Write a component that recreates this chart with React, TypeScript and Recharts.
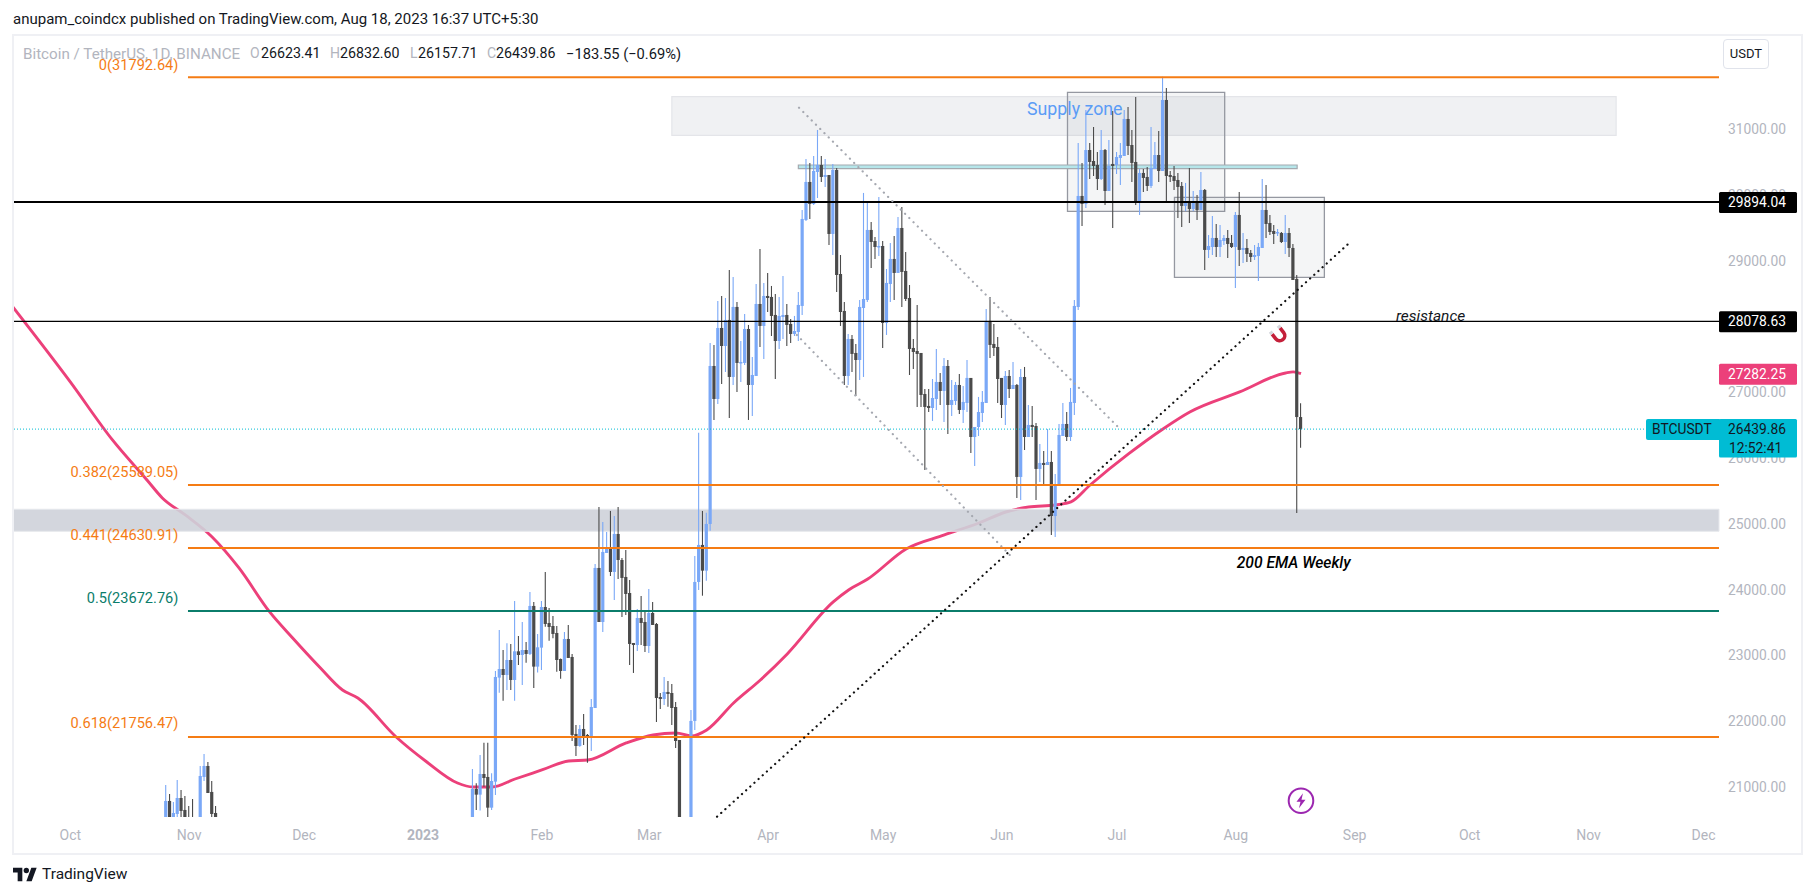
import { Bar, ComposedChart, Line, ReferenceArea, ReferenceDot, ReferenceLine, XAxis, YAxis } from 'recharts';

const FONT = 'Roboto, sans-serif';
const BLUE = '#7aa8f7';
const DARK = '#4a4a4a';
const ORANGE = '#f57c14';
const TEAL = '#0b7d6b';
const PINK = '#ec407a';
const CYAN = '#00bcd4';

// [open, high, low, close], day numbers count from 1 Jan 2023
const octNovCandles = [
  [20400, 21027, 20300, 20784], [20784, 20890, 20300, 20400], [20400, 20769, 20300, 20601], [20586, 21103, 20400, 20829],
  [20829, 20951, 20400, 20632], [20647, 20860, 20400, 20450], [20500, 20708, 20400, 20450], [20500, 20814, 20400, 20450],
  [20300, 20450, 20200, 20400], [20300, 21316, 20250, 21164], [21149, 21499, 21088, 21316], [21316, 21377, 20905, 20905],
  [20921, 21088, 20400, 20586], [20601, 20708, 20400, 20450],
];
const janCandles = [
  [19930, 21270, 19880, 20966], [20966, 21052, 20647, 20880], [20880, 21483, 20637, 21194], [21194, 21671, 21002, 21133],
  [21149, 21671, 20540, 20682], [20682, 21204, 20647, 21088], [21078, 22761, 20875, 22670], [22660, 23385, 22431, 22791],
  [22791, 23080, 22310, 22700], [22700, 23182, 22472, 22928], [22928, 23172, 22472, 22624], [22624, 23826, 22310, 23060],
  [23060, 23293, 22852, 23004], [23004, 23506, 22548, 23080], [23080, 23202, 22888, 23020], [23020, 23963, 23004, 23750],
  [23750, 23810, 22502, 22827], [22827, 23324, 22736, 23121],
];
const febCandles = [
  [23116, 23826, 22776, 23734], [23734, 24267, 23435, 23476], [23491, 23719, 23222, 23430], [23445, 23598, 23258, 23324],
  [23339, 23445, 22751, 22928], [22943, 22950, 22644, 22761], [22761, 23354, 22761, 23248], [23248, 23461, 22959, 22959],
  [22974, 23020, 21696, 21788], [21803, 21940, 21468, 21620], [21620, 21940, 21610, 21879], [21879, 22107, 21635, 21772],
  [21788, 21803, 21367, 21772], [21772, 22335, 21544, 22213], [22198, 24388, 22198, 24328], [24328, 25255, 23506, 23506],
  [23506, 25027, 23354, 24571], [24556, 24875, 24556, 24632], [24632, 25195, 24206, 24267], [24267, 25119, 23841, 24845],
  [24845, 25255, 24160, 24449], [24449, 24480, 23582, 24176], [24191, 24601, 23613, 23932], [23947, 24145, 22852, 23172],
  [23187, 23187, 22731, 23156], [23156, 23704, 23065, 23567], [23567, 23902, 23156, 23491], [23506, 23674, 23050, 23141],
];
const marCandles = [
  [23141, 24008, 23035, 23643], [23643, 23810, 23461, 23461], [23476, 23491, 21985, 22350], [22365, 22426, 22183, 22335],
  [22335, 22670, 22244, 22442], [22442, 22609, 22218, 22411], [22426, 22563, 21940, 22198], [22213, 22290, 21590, 21696],
  [21711, 21711, 19950, 20360], [20360, 20370, 19550, 20150], [20150, 20455, 19800, 20455], [20455, 22168, 20300, 22001],
  [22001, 24510, 21864, 24115], [24115, 26386, 23993, 24678], [24678, 25195, 23906, 24287], [24287, 25169, 24135, 24997],
  [24997, 27750, 24895, 27400], [27400, 27720, 26579, 26898], [26898, 28389, 26822, 27978], [27978, 28465, 27126, 27704],
  [27704, 28434, 27309, 28100], [28100, 28860, 26609, 27233], [27233, 28754, 27111, 28298], [28298, 28374, 27005, 27446],
  [27446, 27780, 27157, 27461], [27446, 28191, 27415, 27963], [27963, 28024, 26579, 27111], [27111, 27537, 26640, 27263],
  [27248, 28647, 27248, 28343], [28343, 29180, 27689, 28009], [28009, 28663, 27507, 28465],
];
const aprCandles = [
  [28465, 28815, 28222, 28434], [28450, 28617, 27856, 28161], [28176, 28495, 27202, 27780], [27780, 28450, 27659, 28161],
  [28145, 28769, 27811, 28176], [28176, 28343, 27704, 28024], [28039, 28115, 27750, 27887], [27887, 28161, 27856, 27932],
  [27917, 28526, 27780, 28328], [28313, 29773, 28176, 29636], [29621, 30549, 29606, 30199], [30199, 30488, 29636, 29864],
  [29864, 30594, 29849, 30366], [30351, 30990, 29955, 30457], [30457, 30594, 30199, 30275], [30275, 30549, 30123, 30305],
  [30305, 30305, 29241, 29408], [29408, 30473, 29088, 30381], [30381, 30412, 28526, 28784], [28799, 29088, 28009, 28221],
  [28237, 28374, 27111, 27248], [27248, 27887, 27111, 27811], [27811, 27872, 27309, 27583], [27598, 27735, 26944, 27491],
  [27491, 28404, 27187, 28298], [28282, 30032, 27233, 28419], [28404, 29879, 28373, 29469], [29469, 29590, 28891, 29286],
  [29301, 29362, 29028, 29210], [29210, 29971, 29073, 29225],
];
const mayCandles = [
  [29225, 29301, 27674, 28054], [28054, 28875, 27872, 28663], [28647, 29271, 28373, 29028], [29028, 29377, 28404, 28815],
  [28815, 29666, 28815, 29499], [29499, 29818, 28298, 28830], [28845, 29134, 28389, 28419], [28434, 28632, 27263, 27659],
  [27674, 27811, 27355, 27613], [27628, 28328, 26777, 27583], [27598, 27598, 26777, 26959], [26974, 27050, 25818, 26777],
  [26792, 27050, 26700, 26761], [26761, 27202, 26564, 26913], [26898, 27659, 26731, 27157], [27157, 27294, 26807, 27020],
  [27020, 27522, 26548, 27400], [27400, 27491, 26366, 26807], [26807, 27187, 26640, 26883], [26868, 27157, 26807, 27111],
  [27111, 27279, 26670, 26731], [26731, 27096, 26533, 26853], [26837, 27491, 26700, 27218], [27218, 27218, 26077, 26320],
  [26320, 26472, 25879, 26472], [26472, 26929, 26335, 26700], [26685, 27020, 26548, 26853], [26837, 28267, 26837, 28085],
  [28085, 28450, 27522, 27720], [27735, 28039, 27552, 27674], [27689, 27841, 26837, 27202],
];
const junCandles = [
  [27218, 27218, 26609, 26807], [26807, 27324, 26503, 27248], [27248, 27340, 26913, 27050], [27050, 27461, 27050, 27111],
  [27111, 27126, 25393, 25712], [25712, 27355, 25362, 27233], [27233, 27385, 26122, 26320], [26320, 26807, 26320, 26503],
  [26503, 26792, 26320, 26472], [26487, 26533, 25362, 25834], [25834, 26214, 25636, 25925], [25925, 26107, 25605, 25894],
  [25894, 26442, 25894, 25940], [25940, 26107, 24830, 25118], [25118, 25757, 24799, 25605], [25590, 26518, 25590, 26351],
  [26335, 26837, 26335, 26518], [26518, 26700, 26259, 26320], [26320, 27066, 26259, 26853], [26837, 28404, 26655, 28313],
  [28297, 30792, 28252, 29986], [29986, 30488, 29530, 29864], [29864, 31294, 29803, 30685], [30685, 30792, 30244, 30503],
  [30518, 31035, 30290, 30442], [30457, 30655, 30077, 30244], [30244, 30990, 30229, 30685], [30685, 30701, 29849, 30062],
  [30062, 30838, 30062, 30442], [30473, 31279, 29499, 30442],
];
const julCandles = [
  [30457, 30655, 30320, 30579], [30564, 30792, 30153, 30609], [30594, 31294, 30594, 31157], [31157, 31340, 30609, 30746],
  [30761, 30990, 30199, 30488], [30503, 31492, 29849, 29879], [29879, 30396, 29697, 30336], [30336, 30396, 30047, 30260],
  [30275, 30427, 30062, 30138], [30138, 31035, 30108, 30412], [30396, 30807, 30396, 30609], [30609, 30974, 30199, 30366],
  [30366, 31800, 30366, 31446], [31446, 31629, 29895, 30290], [30305, 30366, 30199, 30275], [30290, 30442, 30077, 30214],
  [30229, 30336, 29651, 30123], [30138, 30199, 29514, 29834], [29834, 30184, 29758, 29895], [29910, 30412, 29575, 29788],
  [29788, 30062, 29758, 29910], [29910, 30001, 29621, 29773], [29773, 30351, 29773, 30077], [30077, 30092, 28860, 29165],
  [29165, 29393, 29043, 29225], [29210, 29682, 29088, 29347], [29347, 29560, 29058, 29210], [29210, 29545, 29058, 29317],
  [29301, 29393, 29241, 29347], [29347, 29469, 29043, 29256], [29271, 29393, 29195, 29210],
];
const augCandles = [
  [29210, 29742, 28587, 29697], [29697, 30047, 28921, 29165], [29165, 29423, 28967, 29195], [29195, 29332, 28982, 29104],
  [29119, 29165, 28982, 29058], [29058, 29241, 29013, 29088], [29073, 29271, 28693, 29210], [29195, 30244, 29195, 29773],
  [29773, 30153, 29347, 29560], [29575, 29697, 29393, 29438], [29453, 29545, 29256, 29408], [29423, 29484, 29377, 29438],
  [29423, 29438, 29271, 29286], [29286, 29697, 29104, 29423], [29423, 29499, 29058, 29195], [29195, 29256, 28708, 28708],
  [28724, 28784, 25164, 26623.41], [26623.41, 26832.6, 26157.71, 26439.86],
];
const candleBlocks: [number, number[][]][] = [
  [-67, octNovCandles], [13, janCandles], [31, febCandles], [59, marCandles], [90, aprCandles],
  [120, mayCandles], [151, junCandles], [181, julCandles], [212, augCandles],
];

const emaDays = [-107, -92, -81, -72, -68, -62, -55, -48, -40, -34, -27, -21, -17, -7, 1, 9, 13, 18, 24, 31, 38, 43, 53, 60, 66, 70, 74, 81, 88, 95, 107, 111, 116, 126, 136, 145, 152, 158, 165, 169, 174, 184, 193, 200, 213, 225, 227, 229];
const emaValues = [28298, 27157, 26275, 25666, 25393, 25134, 24799, 24328, 23659, 23263, 22822, 22472, 22350, 21757, 21377, 21057, 20996, 20996, 21118, 21255, 21392, 21407, 21666, 21788, 21818, 21773, 21864, 22274, 22624, 23020, 23811, 23993, 24160, 24617, 24830, 25012, 25179, 25255, 25286, 25332, 25590, 26062, 26442, 26700, 27005, 27294, 27310, 27282.25];

const monthDays = [-92, -61, -31, 0, 31, 59, 90, 120, 151, 181, 212, 243, 273, 304, 334];
const monthNames = ['Oct', 'Nov', 'Dec', '2023', 'Feb', 'Mar', 'Apr', 'May', 'Jun', 'Jul', 'Aug', 'Sep', 'Oct', 'Nov', 'Dec'];
const priceTicks = [21000, 22000, 23000, 24000, 25000, 26000, 27000, 29000, 30000, 31000];
const priceTags: Record<number, [string, string]> = {
  29894.04: ['#000000', '#ffffff'],
  28078.63: ['#000000', '#ffffff'],
  27282.25: [PINK, '#ffffff'],
  26439.86: [CYAN, '#131722'],
};
const fibLevels = [
  { text: '0(31792.64)', price: 31792.64, labelPrice: 31978, color: ORANGE },
  { text: '0.382(25589.05)', price: 25589.05, labelPrice: 25793, color: ORANGE },
  { text: '0.441(24630.91)', price: 24630.91, labelPrice: 24830, color: ORANGE },
  { text: '0.5(23672.76)', price: 23672.76, labelPrice: 23876, color: TEAL },
  { text: '0.618(21756.47)', price: 21756.47, labelPrice: 21975, color: ORANGE },
];

const candleData = candleBlocks.flatMap(([start, rows]) =>
  rows.map(([open, high, low, close], i) => ({ day: start + i, open, high, low, close })),
);
const emaData = emaDays.map((day, i) => ({ day, ema: emaValues[i] }));

function Candle(props: any) {
  const { x, y, width, height, payload } = props;
  const { open, close, high, low } = payload;
  const color = close >= open ? BLUE : DARK;
  const top = Math.min(y, y + height);
  const h = Math.abs(height);
  const perPrice = h / (high - low);
  const bodyTop = top + (high - Math.max(open, close)) * perPrice;
  const bodyHeight = Math.max(1.5, Math.abs(open - close) * perPrice);
  const cx = x + width / 2;
  return (
    <g>
      <line x1={cx} x2={cx} y1={top} y2={top + h} stroke={color} strokeWidth={1.1} />
      <rect x={cx - 1.6} y={bodyTop} width={3.2} height={bodyHeight} fill={color} />
    </g>
  );
}

function PriceTick(props: any) {
  const { x, y, payload } = props;
  const tag = priceTags[payload.value];
  if (!tag) {
    return (
      <text x={x + 9} y={y} dy={5} fontSize={13.8} fontFamily={FONT} fill="#b2b5be">
        {payload.value.toFixed(2)}
      </text>
    );
  }
  const isLast = payload.value === 26439.86;
  return (
    <g>
      {isLast && <rect x={x - 73} y={y - 10} width={75} height={21} rx={2} fill={tag[0]} />}
      <rect x={x} y={y - 10} width={78} height={isLast ? 38.5 : 21} rx={1.5} fill={tag[0]} />
      <text x={x + 9} y={y} dy={5} fontSize={13.8} fontFamily={FONT} fill={tag[1]}>
        {payload.value.toFixed(2)}
      </text>
      {isLast && (
        <>
          <text x={x - 67} y={y} dy={5} fontSize={13.8} fontFamily={FONT} fill={tag[1]}>BTCUSDT</text>
          <text x={x + 10} y={y + 19} dy={5} fontSize={13.8} fontFamily={FONT} fill={tag[1]}>12:52:41</text>
        </>
      )}
    </g>
  );
}

function MonthTick(props: any) {
  const { x, y, index } = props;
  const name = monthNames[index];
  return (
    <text x={x} y={y} dy={5} textAnchor="middle" fontSize={14} fontFamily={FONT} fontWeight={name === '2023' ? 700 : 400} fill="#b2b5be">
      {name}
    </text>
  );
}

const note = (text: string, fill: string, fontSize: number, anchor: 'middle' | 'end', extra: any = {}) =>
  (props: any) => (
    <text x={props.cx} y={props.cy} dy={5} textAnchor={anchor} fontSize={fontSize} fontFamily={FONT} fill={fill} {...extra}>
      {text}
    </text>
  );

const Magnet = (props: any) => (
  <g transform={`translate(${props.cx},${props.cy}) rotate(-38)`}>
    <path d="M-5,-5 V1 A5,5 0 0 0 5,1 V-5" fill="none" stroke="#c4203a" strokeWidth={3.6} />
    <path d="M-5,-8 V-5 M5,-8 V-5" stroke="#d5d7dd" strokeWidth={3.6} />
  </g>
);

const Bolt = (props: any) => (
  <g transform={`translate(${props.cx},${props.cy})`}>
    <circle r={12.3} fill="#ffffff" stroke="#9c27b0" strokeWidth={2} />
    <path d="M2,-7.5 L-4.5,1 H-0.5 L-2,7.5 L4.5,-1 H0.5 Z" fill="#9c27b0" />
  </g>
);

const headerParts: [number, string, string, number][] = [
  [23, 'Bitcoin / TetherUS, 1D, BINANCE', '#b2b5be', 15.2],
  [250, 'O', '#b2b5be', 14],
  [261, '26623.41', '#131722', 14.2],
  [330, 'H', '#b2b5be', 14],
  [340, '26832.60', '#131722', 14.2],
  [410, 'L', '#b2b5be', 14],
  [418, '26157.71', '#131722', 14.2],
  [487, 'C', '#b2b5be', 14],
  [496, '26439.86', '#131722', 14.2],
  [566, '−183.55 (−0.69%)', '#131722', 14.7],
];

export default function App() {
  return (
    <div style={{ position: 'absolute', left: 0, top: 0, width: 1814, height: 896, background: '#fff', overflow: 'hidden', fontFamily: FONT }}>
      <ComposedChart
        width={1814}
        height={896}
        data={candleData}
        margin={{ top: 36, left: 13, right: 15, bottom: 44 }}
        style={{ position: 'absolute', left: 0, top: 0 }}
      >
        <XAxis
          dataKey="day"
          type="number"
          domain={[-106.94, 338.03]}
          ticks={monthDays}
          interval={0}
          height={35}
          axisLine={false}
          tickLine={false}
          tickSize={0}
          tickMargin={18}
          tick={<MonthTick />}
          allowDataOverflow
        />
        <YAxis
          orientation="right"
          type="number"
          domain={[20540, 32419]}
          ticks={[...priceTicks, 29894.04, 28078.63, 27282.25, 26439.86]}
          interval={0}
          width={80}
          axisLine={false}
          tickLine={false}
          tickSize={0}
          tickMargin={0}
          tick={<PriceTick />}
          allowDataOverflow
        />

        <ReferenceArea x1={64.9} x2={311.2} y1={30909} y2={31496} fill="#f0f1f3" fillOpacity={1} stroke="#e4e5e9" strokeWidth={1.2} />
        <Line data={emaData} dataKey="ema" type="monotone" stroke={PINK} strokeWidth={2.9} dot={false} isAnimationActive={false} zIndex={110} />
        <ReferenceArea y1={24886} y2={25221} fill="#ced1d9" fillOpacity={0.9} stroke="#e6e8ec" strokeWidth={1} zIndex={120} />
        <ReferenceArea x1={168.1} x2={209.1} y1={29753} y2={31563} fill="#787b86" fillOpacity={0.08} stroke="#9598a1" strokeWidth={1.3} />
        <ReferenceArea x1={196} x2={235.1} y1={28749} y2={29966} fill="#787b86" fillOpacity={0.08} stroke="#9598a1" strokeWidth={1.3} />
        <ReferenceArea x1={97.9} x2={228} y1={30401} y2={30457} fill="#b6e6ea" fillOpacity={1} stroke="#a4aab0" strokeWidth={1.2} />

        <Bar dataKey={(d: any) => [d.low, d.high]} barSize={3} shape={<Candle />} isAnimationActive={false} />

        {fibLevels.map((f) => (
          <ReferenceLine
            key={f.text}
            segment={[{ x: -61.3, y: f.price }, { x: 338.03, y: f.price }]}
            stroke={f.color}
            strokeWidth={2}
          />
        ))}
        {fibLevels.map((f) => (
          <ReferenceDot key={f.text} x={-63.8} y={f.labelPrice} shape={note(f.text, f.color, 14.6, 'end')} />
        ))}

        <ReferenceLine y={29894.04} stroke="#000000" strokeWidth={2} />
        <ReferenceLine y={28078.63} stroke="#000000" strokeWidth={1.3} />
        <ReferenceLine y={26439.86} stroke={CYAN} strokeWidth={1} strokeDasharray="1 2" />

        <ReferenceLine segment={[{ x: 98.07, y: 31329 }, { x: 181.8, y: 26442 }]} stroke="#a5a8b0" strokeWidth={2.2} strokeDasharray="0.1 5.9" strokeLinecap="round" />
        <ReferenceLine segment={[{ x: 97.5, y: 27872 }, { x: 153.8, y: 24480 }]} stroke="#a5a8b0" strokeWidth={2.2} strokeDasharray="0.1 5.9" strokeLinecap="round" />
        <ReferenceLine segment={[{ x: 76.7, y: 20545 }, { x: 241.5, y: 29266 }]} stroke="#111111" strokeWidth={2.2} strokeDasharray="0.1 5.5" strokeLinecap="round" />

        <ReferenceDot x={170} y={31294} shape={note('Supply zone', '#5b9cf6', 17.8, 'middle')} />
        <ReferenceDot x={262.8} y={28153} shape={note('resistance', '#131722', 15.5, 'middle', { fontStyle: 'italic' })} />
        <ReferenceDot x={227.1} y={24408} shape={note('200 EMA Weekly', '#000000', 15.6, 'middle', { fontStyle: 'italic', fontWeight: 500 })} />
        <ReferenceDot x={223.3} y={27872} shape={Magnet} />
        <ReferenceDot x={229} y={20788} shape={Bolt} />
      </ComposedChart>

      {/* page chrome around the pane */}
      <div style={{ position: 'absolute', left: 13, top: 10, fontSize: 15, color: '#131722', whiteSpace: 'nowrap' }}>
        anupam_coindcx published on TradingView.com, Aug 18, 2023 16:37 UTC+5:30
      </div>
      <div style={{ position: 'absolute', left: 12, top: 34, width: 1787, height: 817, border: '2px solid #eff0f4', pointerEvents: 'none' }} />
      {headerParts.map(([left, text, color, size]) => (
        <span key={left} style={{ position: 'absolute', left, top: 45, fontSize: size, color, whiteSpace: 'nowrap' }}>{text}</span>
      ))}
      <div style={{ position: 'absolute', left: 1723, top: 39, width: 44, height: 28, lineHeight: '28px', textAlign: 'center', border: '1px solid #e0e3eb', borderRadius: 4, fontSize: 13, color: '#131722' }}>
        USDT
      </div>
      <svg width={24} height={19} viewBox="0 0 36 28" style={{ position: 'absolute', left: 13, top: 865 }}>
        <path d="M14 24H7V11H0V4h14v20zM28 24h-8l7.5-20h8L28 24z" fill="#131722" />
        <circle cx={20} cy={8} r={4} fill="#131722" />
      </svg>
      <div style={{ position: 'absolute', left: 42, top: 865, fontSize: 15.5, color: '#131722' }}>TradingView</div>
    </div>
  );
}
